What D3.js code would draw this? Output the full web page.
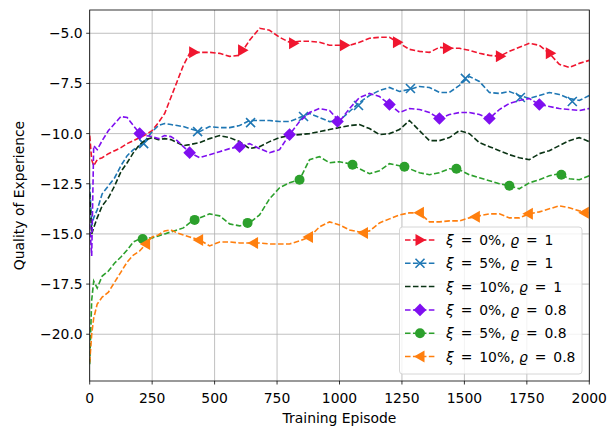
<!DOCTYPE html>
<html>
<head>
<meta charset="utf-8">
<script src="https://cdn.jsdelivr.net/npm/d3@7"></script>
<style>
body { margin: 0; background: #fff; }
text { font-family: "DejaVu Sans", sans-serif; }
</style>
</head>
<body>
<div id="chart"></div>
<script>
// episodes shared by every series
var episodes = [0,8,16,30,50,75,100,125,150,175,200,225,250,275,300,325,350,375,400,
  440,480,520,560,600,640,680,720,760,800,840,880,920,960,1000,1040,1080,1120,1160,1200,
  1240,1280,1320,1360,1400,1440,1480,1520,1560,1600,1640,1680,1720,1760,1800,1840,1880,1920,1960,2000]

var red_vals = [-10.1,-11.3,-11.6,-11.3,-11.2,-11.0,-10.85,-10.7,-10.5,-10.35,-10.2,-10.05,-9.85,-9.45,-9.0,-8.2,-7.4,-6.6,-6.0,
  -5.95,-5.95,-6.0,-6.15,-6.1,-5.35,-4.75,-4.85,-5.2,-5.45,-5.4,-5.4,-5.45,-5.6,-5.6,-5.6,-5.45,-5.25,-5.2,-5.2,
  -5.5,-5.8,-5.9,-5.95,-5.7,-5.75,-5.75,-5.85,-6.0,-6.1,-6.15,-5.9,-5.7,-5.5,-5.6,-6.0,-6.55,-6.7,-6.5,-6.35]
var blue_vals = [-12.5,-14.6,-14.2,-13.8,-13.0,-12.6,-12.2,-11.6,-11.1,-10.8,-10.6,-10.3,-9.9,-9.6,-9.5,-9.55,-9.6,-9.65,-9.75,
  -9.9,-9.65,-9.7,-9.7,-9.6,-9.35,-9.35,-9.35,-9.4,-9.4,-9.2,-9.0,-9.2,-9.4,-9.35,-8.9,-8.45,-8.1,-7.85,-7.7,
  -7.9,-7.8,-7.65,-7.7,-7.95,-7.95,-7.6,-7.15,-7.4,-7.95,-8.0,-7.9,-8.1,-8.25,-8.1,-7.95,-8.05,-8.25,-8.35,-8.1]
var dark_vals = [-13.0,-15.0,-14.7,-14.2,-13.6,-13.2,-12.6,-11.9,-11.45,-10.95,-10.55,-10.3,-10.2,-10.3,-10.25,-10.3,-10.45,-10.6,-10.55,
  -10.45,-10.25,-10.1,-10.2,-10.4,-10.75,-10.65,-10.4,-10.2,-10.1,-10.05,-10.0,-9.9,-9.8,-9.7,-9.6,-9.55,-9.75,-10.05,-10.0,
  -9.8,-9.35,-9.85,-10.35,-10.35,-10.2,-9.85,-10.0,-10.45,-10.65,-10.85,-11.05,-11.2,-11.3,-11.0,-10.85,-10.6,-10.35,-10.2,-10.4]
var purple_vals = [-14.5,-16.1,-10.6,-10.8,-10.35,-9.85,-9.5,-9.15,-9.2,-9.6,-10.0,-10.1,-10.15,-10.25,-10.1,-10.15,-10.35,-10.65,-10.95,
  -11.2,-11.05,-10.9,-10.75,-10.65,-10.5,-10.75,-10.95,-10.8,-10.05,-9.4,-8.95,-8.75,-8.85,-9.4,-8.75,-8.2,-8.0,-8.15,-8.55,
  -8.95,-8.75,-8.8,-8.95,-9.25,-9.05,-8.95,-8.95,-9.05,-9.25,-8.8,-8.5,-8.35,-8.25,-8.55,-8.65,-8.75,-8.8,-8.85,-8.75]
var green_vals = [-21.5,-18.3,-17.35,-17.7,-17.1,-16.85,-16.45,-16.15,-15.8,-15.4,-15.25,-15.2,-15.2,-15.1,-15.0,-14.9,-14.8,-14.7,-14.45,
  -14.2,-14.0,-14.1,-14.5,-14.6,-14.45,-14.05,-13.25,-12.7,-12.45,-12.3,-11.3,-11.15,-11.45,-11.4,-11.5,-11.75,-12.0,-11.85,-11.5,
  -11.6,-11.75,-11.95,-12.05,-11.95,-11.75,-11.8,-12.05,-12.2,-12.35,-12.5,-12.6,-12.75,-12.45,-12.3,-12.1,-12.0,-12.25,-12.3,-12.1]
var orange_vals = [-21.4,-20.0,-19.2,-18.5,-18.15,-17.9,-17.4,-16.9,-16.4,-16.05,-15.85,-15.5,-15.15,-15.05,-14.85,-14.8,-14.95,-15.05,-15.15,
  -15.3,-15.6,-15.4,-15.4,-15.45,-15.45,-15.45,-15.5,-15.5,-15.5,-15.35,-15.15,-14.65,-14.4,-14.55,-14.8,-14.9,-14.85,-14.45,-14.25,
  -14.05,-13.95,-13.95,-14.4,-14.4,-14.35,-14.35,-14.2,-14.1,-14.0,-14.0,-14.2,-14.2,-14.0,-13.9,-13.75,-13.6,-13.7,-13.85,-13.95]

// marker points [episode, value]
var red_marks = [[416,-5.95],[612,-5.85],[816,-5.5],[1020,-5.6],[1232,-5.45],[1432,-5.75],[1644,-6.15],[1844,-6.0]]
var blue_marks = [[216,-10.5],[432,-9.9],[644,-9.45],[856,-9.15],[1076,-8.6],[1284,-7.75],[1504,-7.25],[1724,-8.2],[1932,-8.4]]
var purple_marks = [[200,-10.0],[400,-10.95],[600,-10.65],[800,-10.05],[992,-9.4],[1200,-8.55],[1400,-9.25],[1600,-9.25],[1800,-8.55]]
var green_marks = [[212,-15.25],[420,-14.3],[632,-14.45],[840,-12.3],[1052,-11.55],[1260,-11.65],[1468,-11.75],[1680,-12.6],[1888,-12.05]]
var orange_marks = [[224,-15.5],[436,-15.3],[656,-15.45],[876,-15.15],[1096,-14.95],[1320,-13.95],[1544,-14.15],[1756,-14.0],[1980,-13.95]]

var xi_labels = ["0%","5%","10%","0%","5%","10%"]
var rho_labels = ["1","1","1","0.8","0.8","0.8"]

var series = [
  {vals: red_vals, marks: red_marks, color: "#f0162f", marker: "tri"},
  {vals: blue_vals, marks: blue_marks, color: "#1f77b4", marker: "x"},
  {vals: dark_vals, marks: [], color: "#0a3314", marker: null},
  {vals: purple_vals, marks: purple_marks, color: "#7f0ff0", marker: "diamond"},
  {vals: green_vals, marks: green_marks, color: "#2ca02c", marker: "circle"},
  {vals: orange_vals, marks: orange_marks, color: "#ff7f0e", marker: "ltri"}
]

var width = 615, height = 426
var pLeft = 89.7, pRight = 589.3, pTop = 10, pBottom = 381

var svg = d3.select("#chart").append("svg")
  .attr("width", width).attr("height", height)

var x = d3.scaleLinear().domain([0, 2000]).range([pLeft, pRight])
var y = d3.scaleLinear().domain([-22.33, -3.84]).range([pBottom, pTop])

var xticks = d3.range(0, 2001, 250)
var yticks = [-20, -17.5, -15, -12.5, -10, -7.5, -5]
var fmtY = function(d) { return d3.format(".1f")(d).replace("-", "\u2212") }

// grid
svg.append("g").selectAll("line").data(xticks).join("line")
  .attr("x1", d => x(d)).attr("x2", d => x(d)).attr("y1", pTop).attr("y2", pBottom)
  .attr("stroke", "#b0b0b0").attr("stroke-width", 0.8)
svg.append("g").selectAll("line").data(yticks).join("line")
  .attr("x1", pLeft).attr("x2", pRight).attr("y1", d => y(d)).attr("y2", d => y(d))
  .attr("stroke", "#b0b0b0").attr("stroke-width", 0.8)

svg.append("defs").append("clipPath").attr("id", "clip")
  .append("rect").attr("x", pLeft).attr("y", pTop).attr("width", pRight - pLeft).attr("height", pBottom - pTop)

var line = d3.line().x(d => x(d[0])).y(d => y(d[1]))
var plot = svg.append("g").attr("clip-path", "url(#clip)")

function drawMarker(g, type, cx, cy, color) {
  if (type == "tri") {
    g.append("path").attr("d", `M${cx+6},${cy} L${cx-4.5},${cy-6} L${cx-4.5},${cy+6} Z`).attr("fill", color)
  } else if (type == "ltri") {
    g.append("path").attr("d", `M${cx-6},${cy} L${cx+4.5},${cy-6} L${cx+4.5},${cy+6} Z`).attr("fill", color)
  } else if (type == "diamond") {
    g.append("path").attr("d", `M${cx},${cy-6.3} L${cx+6.3},${cy} L${cx},${cy+6.3} L${cx-6.3},${cy} Z`).attr("fill", color)
  } else if (type == "circle") {
    g.append("circle").attr("cx", cx).attr("cy", cy).attr("r", 5).attr("fill", color)
  } else if (type == "x") {
    g.append("path").attr("d", `M${cx-4.5},${cy-4.5} L${cx+4.5},${cy+4.5} M${cx-4.5},${cy+4.5} L${cx+4.5},${cy-4.5}`)
      .attr("stroke", color).attr("stroke-width", 1.6)
  }
}

series.forEach(function(s) {
  var pts = episodes.map((e, i) => [e, s.vals[i]])
  plot.append("path").datum(pts)
    .attr("d", line)
    .attr("fill", "none")
    .attr("stroke", s.color)
    .attr("stroke-width", 1.6)
    .attr("stroke-dasharray", "5.55,2.4")
  s.marks.forEach(function(m) {
    drawMarker(plot, s.marker, x(m[0]), y(m[1]), s.color)
  })
})

// spines
svg.append("rect").attr("x", pLeft).attr("y", pTop).attr("width", pRight - pLeft).attr("height", pBottom - pTop)
  .attr("fill", "none").attr("stroke", "#000").attr("stroke-width", 0.8)

// x axis
var xa = svg.append("g")
xa.selectAll("line").data(xticks).join("line")
  .attr("x1", d => x(d)).attr("x2", d => x(d)).attr("y1", pBottom).attr("y2", pBottom + 3.5)
  .attr("stroke", "#000").attr("stroke-width", 0.8)
xa.selectAll("text").data(xticks).join("text")
  .attr("x", d => x(d)).attr("y", 403)
  .attr("text-anchor", "middle").style("font-size", "13.9px").text(d => d)
svg.append("text").attr("x", (pLeft + pRight) / 2).attr("y", 423)
  .attr("text-anchor", "middle").style("font-size", "13.9px").text("Training Episode")

// y axis
var ya = svg.append("g")
ya.selectAll("line").data(yticks).join("line")
  .attr("x1", pLeft - 3.5).attr("x2", pLeft).attr("y1", d => y(d)).attr("y2", d => y(d))
  .attr("stroke", "#000").attr("stroke-width", 0.8)
ya.selectAll("text").data(yticks).join("text")
  .attr("x", pLeft - 7).attr("y", d => y(d))
  .attr("dy", "0.36em")
  .attr("text-anchor", "end").style("font-size", "13.9px").text(fmtY)
svg.append("text")
  .attr("transform", "translate(24," + (pTop + pBottom) / 2 + ") rotate(-90)")
  .attr("text-anchor", "middle").style("font-size", "13.9px").text("Quality of Experience")

// legend
var lg = svg.append("g")
lg.append("rect").attr("x", 399.5).attr("y", 227).attr("width", 182.5).attr("height", 147)
  .attr("rx", 3).attr("fill", "#fff").attr("fill-opacity", 0.8)
  .attr("stroke", "#cccccc").attr("stroke-width", 0.8)
series.forEach(function(s, i) {
  var cy = 240 + i * 23.3
  lg.append("line").attr("x1", 405).attr("x2", 435).attr("y1", cy).attr("y2", cy)
    .attr("stroke", s.color).attr("stroke-width", 1.5).attr("stroke-dasharray", "5.55,2.4")
  if (s.marker) drawMarker(lg, s.marker, 420, cy, s.color)
  var t = lg.append("text").attr("x", 446).attr("y", cy).attr("dy", "0.36em")
    .style("font-size", "13.9px")
  t.append("tspan").style("font-style", "italic").text("\u03be")
  t.append("tspan").text("\u2002=\u2002" + xi_labels[i] + ", ")
  t.append("tspan").style("font-style", "italic").text("\u03f1")
  t.append("tspan").text("\u2002=\u2002" + rho_labels[i])
})
</script>
</body>
</html>
